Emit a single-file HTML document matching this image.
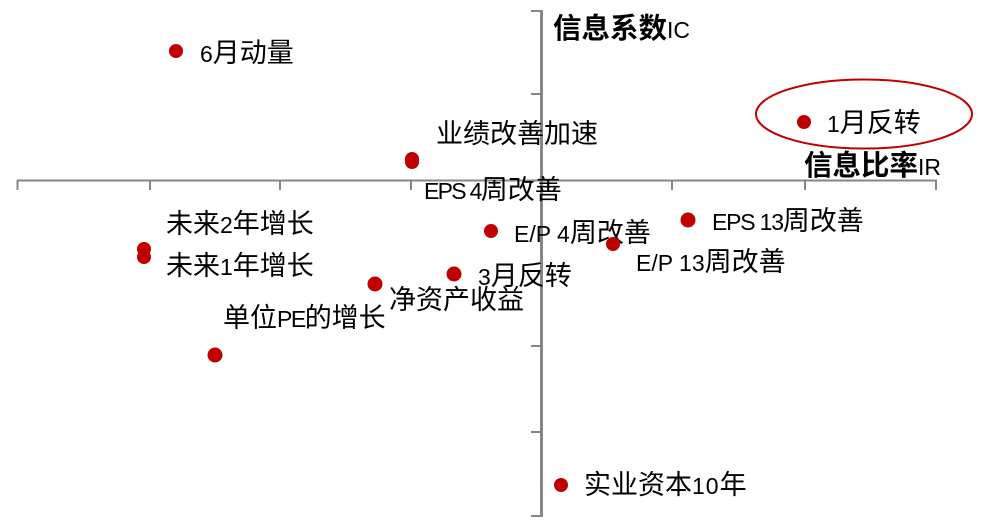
<!DOCTYPE html>
<html><head><meta charset="utf-8">
<style>
html,body{margin:0;padding:0;background:#fff}
#c{position:relative;width:981px;height:525px;overflow:hidden;background:#fff}
svg{position:absolute;left:0;top:0}
text{font-family:"Noto Sans CJK SC","WenQuanYi Zen Hei",sans-serif;font-size:27px;fill:#000}
.l{font-family:"Liberation Sans",sans-serif;font-size:23px}
.n{letter-spacing:-1.2px}
.m{letter-spacing:-1.7px}
.p{letter-spacing:-1.5px}
.t{letter-spacing:1px}
.b{font-size:28.5px;font-weight:700}
.s{font-family:"Liberation Sans",sans-serif;font-size:23px;font-weight:400}
</style></head><body>
<div id="c">
<svg width="981" height="525" viewBox="0 0 981 525">
<g stroke="#868686" stroke-width="2" fill="none">
<path d="M17 180.500H937"/>
<path d="M17.500 180V190M150 180V190M280 180V190M411 180V190M672 180V190M805 180V190M936 180V190"/>
</g>
<g stroke="#868686" stroke-width="3" fill="none"><path d="M541.500 10V517"/></g>
<g stroke="#868686" stroke-width="2" fill="none"><path d="M531 11H541M531 94H541M531 346H541M531 432H541M531 516H541"/></g>
<ellipse cx="864" cy="114" rx="108" ry="34.500" fill="none" stroke="#c00000" stroke-width="2"/>
<g fill="#c00000">
<circle cx="176" cy="51" r="7"/>
<circle cx="804" cy="122" r="7"/>
<circle cx="412" cy="159" r="7"/>
<circle cx="412" cy="162" r="7"/>
<circle cx="688" cy="220" r="7.500"/>
<circle cx="491" cy="231" r="7"/>
<circle cx="144" cy="249" r="7"/>
<circle cx="144" cy="257" r="7"/>
<circle cx="454" cy="274" r="7.500"/>
<circle cx="375" cy="284" r="7.500"/>
<circle cx="215" cy="355" r="7.500"/>
<circle cx="561" cy="485" r="7"/>
</g>
<text x="553" y="38" class="b">信息系数<tspan class="s">IC</tspan></text>
<text x="804" y="175" class="b">信息比率<tspan class="s">IR</tspan></text>
<text x="200" y="62"><tspan class="l">6</tspan>月动量</text>
<text x="827" y="132"><tspan class="l">1</tspan>月反转</text>
<text x="436" y="143">业绩改善加速</text>
<text x="424" y="199"><tspan class="l m">EPS 4</tspan>周改善</text>
<text x="712" y="230"><tspan class="l n">EPS 13</tspan>周改善</text>
<text x="514" y="242"><tspan class="l">E/P 4</tspan>周改善</text>
<circle cx="613" cy="244" r="7" fill="#c00000"/>
<text x="636" y="271"><tspan class="l">E/P 13</tspan>周改善</text>
<text x="166" y="233">未来<tspan class="l">2</tspan>年增长</text>
<text x="166" y="275">未来<tspan class="l">1</tspan>年增长</text>
<text x="478" y="285"><tspan class="l">3</tspan>月反转</text>
<text x="389" y="309">净资产收益</text>
<text x="223" y="327">单位<tspan class="l p">PE</tspan>的增长</text>
<text x="584" y="494">实业资本<tspan class="l t">10</tspan>年</text>
</svg>
</div>
</body></html>
